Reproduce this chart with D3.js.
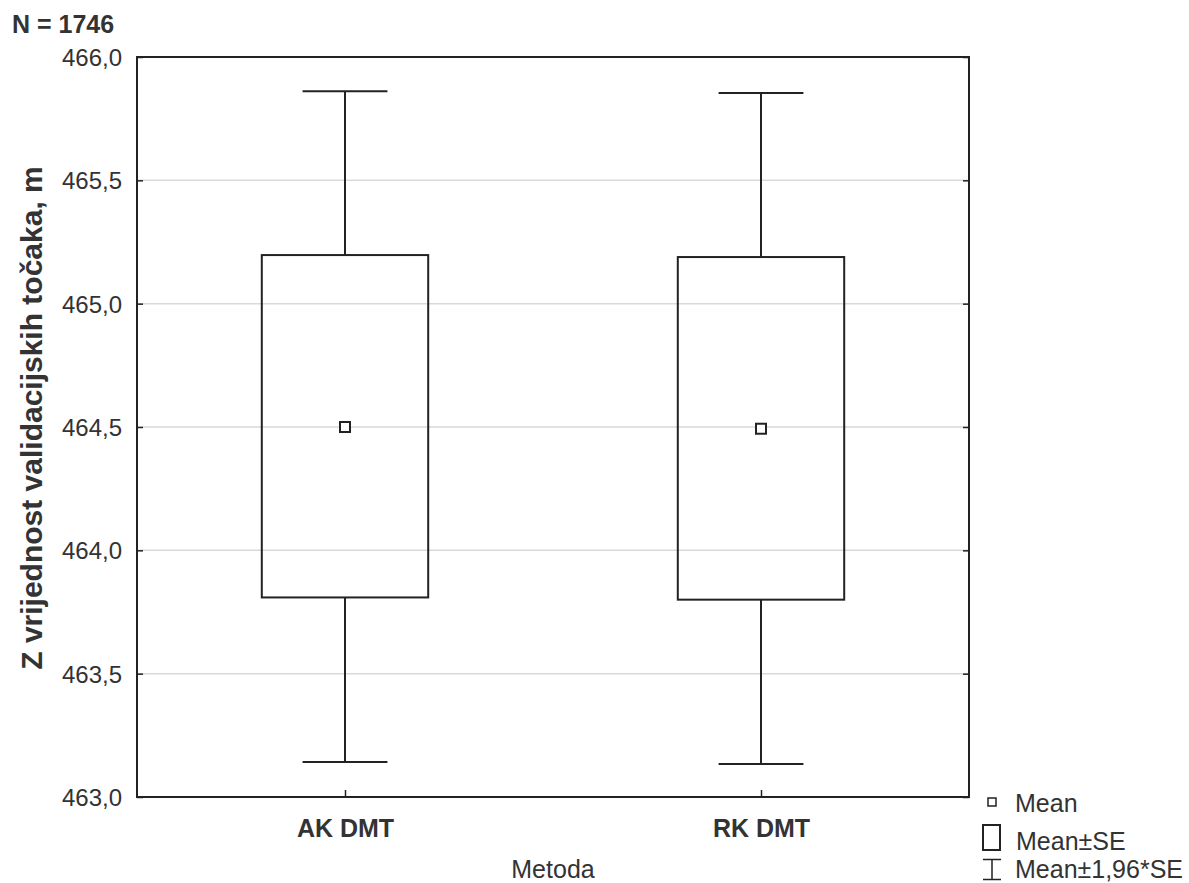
<!DOCTYPE html>
<meta charset='utf-8'>
<style>
  body { margin: 0; background: #fff; }
  text { font-family: 'Liberation Sans', Arial, sans-serif; fill: #333; }
</style>
<div id='chart'></div>
<script src='https://d3js.org/d3.v7.min.js'></script>
<script>
  // values
  var categories = ['AK DMT', 'RK DMT'];
  var means      = [464.500, 464.493];
  var seLow      = [463.809, 463.800];
  var seHigh     = [465.197, 465.189];
  var ciLow      = [463.142, 463.134];
  var ciHigh     = [465.861, 465.854];
  var yTicks     = [463.0, 463.5, 464.0, 464.5, 465.0, 465.5, 466.0];

  var W = 1189, H = 883;
  var pLeft = 137, pRight = 969, pTop = 57, pBottom = 797;

  var svg = d3.select('#chart').append('svg')
      .attr('width', W).attr('height', H);

  var y = d3.scaleLinear().domain([463, 466]).range([pBottom, pTop]);
  var x = d3.scalePoint().domain(categories).range([pLeft, pRight]).padding(0.5);
  var boxW = (pRight - pLeft) * 0.2;
  var capW = boxW * 0.51;

  var loc = d3.formatLocale({decimal: ',', thousands: '.', grouping: [3], currency: ['', '']});
  var fmt = loc.format('.1f');

  // grid
  svg.append('g').selectAll('line')
    .data(yTicks.filter(function(d) { return d > 463 && d < 466; }))
    .enter().append('line')
      .attr('x1', pLeft).attr('x2', pRight)
      .attr('y1', function(d) { return y(d); })
      .attr('y2', function(d) { return y(d); })
      .attr('stroke', '#d9d9d9').attr('stroke-width', 1.5);

  // left axis, ticks inward
  var yAxis = svg.append('g')
    .attr('transform', 'translate(' + pLeft + ',0)')
    .call(d3.axisLeft(y).tickValues(yTicks).tickFormat(fmt).tickSizeInner(-6).tickSizeOuter(0).tickPadding(15));
  yAxis.select('.domain').remove();
  yAxis.selectAll('.tick line').attr('stroke', '#222').attr('stroke-width', 1.5);
  yAxis.selectAll('.tick text')
    .style('font-size', '24px').attr('fill', '#333').attr('dy', '0.35em');

  // right ticks
  svg.append('g').attr('transform', 'translate(' + pRight + ',0)')
    .call(d3.axisRight(y).tickValues(yTicks).tickFormat('').tickSizeInner(-6).tickSizeOuter(0))
    .call(function(g) { g.select('.domain').remove(); })
    .selectAll('.tick line').attr('stroke', '#222').attr('stroke-width', 1.5);

  // bottom axis
  var xAxis = svg.append('g')
    .attr('transform', 'translate(0,' + pBottom + ')')
    .call(d3.axisBottom(x).tickSizeInner(-7).tickSizeOuter(0).tickPadding(22));
  xAxis.select('.domain').remove();
  xAxis.selectAll('.tick line').attr('stroke', '#222').attr('stroke-width', 1.5);
  xAxis.selectAll('.tick text')
    .style('font-size', '25px').style('font-weight', 'bold').attr('fill', '#333');

  // frame
  svg.append('rect')
    .attr('x', pLeft).attr('y', pTop)
    .attr('width', pRight - pLeft).attr('height', pBottom - pTop)
    .attr('fill', 'none').attr('stroke', '#222').attr('stroke-width', 2);

  var data = categories.map(function(c, i) {
    return {cat: c, mean: means[i], lo: seLow[i], hi: seHigh[i], cLo: ciLow[i], cHi: ciHigh[i]};
  });

  var g = svg.append('g').selectAll('g').data(data).enter().append('g');

  g.append('line')
    .attr('x1', function(d) { return x(d.cat); }).attr('x2', function(d) { return x(d.cat); })
    .attr('y1', function(d) { return y(d.cHi); }).attr('y2', function(d) { return y(d.hi); })
    .attr('stroke', '#222').attr('stroke-width', 2);
  g.append('line')
    .attr('x1', function(d) { return x(d.cat); }).attr('x2', function(d) { return x(d.cat); })
    .attr('y1', function(d) { return y(d.lo); }).attr('y2', function(d) { return y(d.cLo); })
    .attr('stroke', '#222').attr('stroke-width', 2);
  g.append('line')
    .attr('x1', function(d) { return x(d.cat) - capW / 2; }).attr('x2', function(d) { return x(d.cat) + capW / 2; })
    .attr('y1', function(d) { return y(d.cHi); }).attr('y2', function(d) { return y(d.cHi); })
    .attr('stroke', '#222').attr('stroke-width', 2);
  g.append('line')
    .attr('x1', function(d) { return x(d.cat) - capW / 2; }).attr('x2', function(d) { return x(d.cat) + capW / 2; })
    .attr('y1', function(d) { return y(d.cLo); }).attr('y2', function(d) { return y(d.cLo); })
    .attr('stroke', '#222').attr('stroke-width', 2);
  g.append('rect')
    .attr('x', function(d) { return x(d.cat) - boxW / 2; })
    .attr('y', function(d) { return y(d.hi); })
    .attr('width', boxW)
    .attr('height', function(d) { return y(d.lo) - y(d.hi); })
    .attr('fill', 'none').attr('stroke', '#222').attr('stroke-width', 2);
  g.append('rect')
    .attr('x', function(d) { return x(d.cat) - 5; })
    .attr('y', function(d) { return y(d.mean) - 5; })
    .attr('width', 10).attr('height', 10)
    .attr('fill', '#fff').attr('stroke', '#222').attr('stroke-width', 2);

  // texts
  svg.append('text').attr('x', 12).attr('y', 33)
    .style('font-size', '25px').style('font-weight', 'bold').text('N = 1746');
  svg.append('text').attr('x', (pLeft + pRight) / 2).attr('y', 878)
    .attr('text-anchor', 'middle').style('font-size', '25px').text('Metoda');
  svg.append('text')
    .attr('transform', 'translate(42,418) rotate(-90)')
    .attr('text-anchor', 'middle')
    .style('font-size', '30px').style('font-weight', 'bold')
    .text('Z vrijednost validacijskih točaka, m');

  // legend
  var lg = svg.append('g');
  lg.append('rect').attr('x', 988).attr('y', 798).attr('width', 8).attr('height', 8)
    .attr('fill', '#fff').attr('stroke', '#222').attr('stroke-width', 1.5);
  lg.append('text').attr('x', 1015).attr('y', 812).style('font-size', '25px').text('Mean');
  lg.append('rect').attr('x', 983).attr('y', 825).attr('width', 17).attr('height', 25)
    .attr('fill', '#fff').attr('stroke', '#222').attr('stroke-width', 2);
  lg.append('text').attr('x', 1016).attr('y', 850).style('font-size', '25px').text('Mean±SE');
  lg.append('path').attr('d', 'M983,859.5H1001M992,859.5V879.5M983,879.5H1001')
    .attr('fill', 'none').attr('stroke', '#222').attr('stroke-width', 1.5);
  lg.append('text').attr('x', 1015).attr('y', 878).style('font-size', '25px').text('Mean±1,96*SE');
</script>
